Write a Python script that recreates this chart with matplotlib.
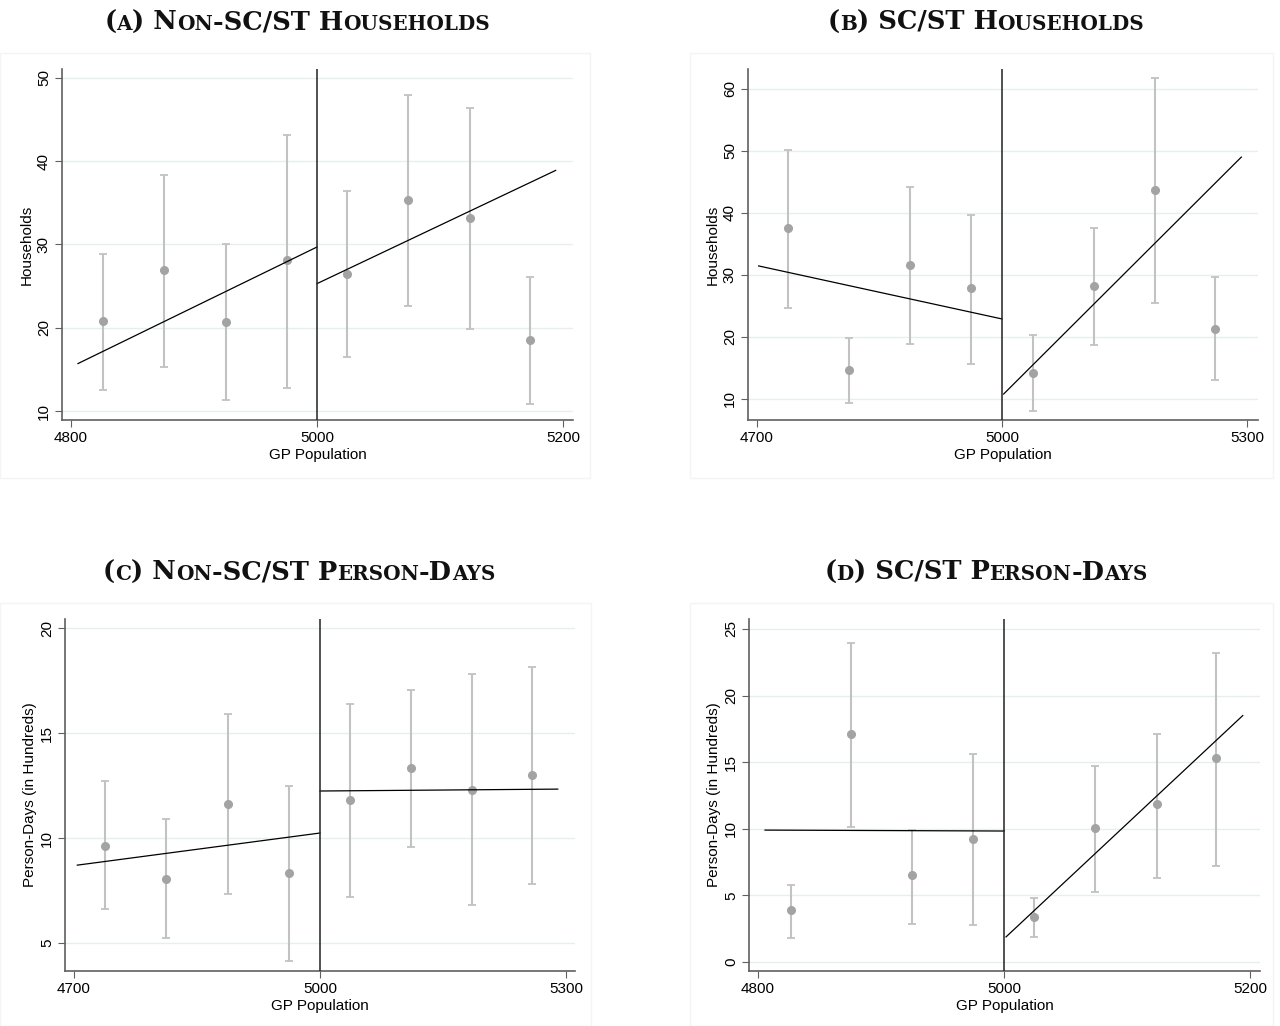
import numpy as np
import matplotlib as mpl
mpl.use('Agg')
import matplotlib.pyplot as plt
import matplotlib.transforms as mtransforms
from matplotlib.patches import Rectangle

W, H = 1280, 1026

# ---- data ----
# (a) Non-SC/ST households
a_x = [4826, 4876, 4926, 4976, 5024, 5074, 5124, 5173]
a_mean = [20.8, 26.9, 20.7, 28.1, 26.5, 35.3, 33.2, 18.5]
a_lo = [12.5, 15.3, 11.3, 12.8, 16.5, 22.6, 19.9, 10.9]
a_hi = [28.8, 38.4, 30.0, 43.2, 36.4, 48.0, 46.4, 26.1]
a_fit_left = ([4805.7, 5000], [15.7, 29.7])
a_fit_right = ([5000, 5194], [25.3, 38.9])

# (b) SC/ST households
b_x = [4738, 4812.5, 4887.5, 4962.5, 5037.5, 5112.5, 5187, 5261]
b_mean = [37.6, 14.7, 31.6, 27.9, 14.2, 28.2, 43.7, 21.3]
b_lo = [24.7, 9.4, 18.9, 15.7, 8.0, 18.7, 25.5, 13.0]
b_hi = [50.2, 19.8, 44.1, 39.6, 20.3, 37.6, 61.7, 29.6]
b_fit_left = ([4702, 5000], [31.45, 22.9])
b_fit_right = ([5002, 5293], [10.8, 49.0])

# (c) Non-SC/ST person-days
c_x = [4738, 4812, 4888, 4962, 5037, 5111, 5185, 5258]
c_mean = [9.62, 8.05, 11.6, 8.33, 11.8, 13.33, 12.3, 13.0]
c_lo = [6.62, 5.24, 7.33, 4.14, 7.19, 9.57, 6.8, 7.8]
c_hi = [12.71, 10.9, 15.9, 12.48, 16.4, 17.05, 17.8, 18.15]
c_fit_left = ([4704, 5000], [8.71, 10.24])
c_fit_right = ([5000, 5290], [12.24, 12.33])

# (d) SC/ST person-days
d_x = [4827, 4876, 4925, 4975, 5024, 5074, 5124, 5172]
d_mean = [3.9, 17.1, 6.5, 9.2, 3.4, 10.05, 11.85, 15.3]
d_lo = [1.8, 10.1, 2.85, 2.8, 1.9, 5.26, 6.3, 7.2]
d_hi = [5.78, 23.95, 9.9, 15.6, 4.8, 14.7, 17.1, 23.2]
d_fit_left = ([4805.7, 5000], [9.9, 9.83])
d_fit_right = ([5001.6, 5194], [1.88, 18.5])

panels = [
    dict(title='(a) Non-SC/ST Households', ylabel='Households',
         x=a_x, m=a_mean, lo=a_lo, hi=a_hi, fl=a_fit_left, fr=a_fit_right,
         xticks=[4800, 5000, 5200], yticks=[10, 20, 30, 40, 50],
         xlim=(4792.7, 5208.1), ylim=(8.92, 51.08),
         box=(62, 69, 573, 420), frame=(0, 53, 590, 478), ttl=(297, 30)),
    dict(title='(b) SC/ST Households', ylabel='Households',
         x=b_x, m=b_mean, lo=b_lo, hi=b_hi, fl=b_fit_left, fr=b_fit_right,
         xticks=[4700, 5000, 5300], yticks=[10, 20, 30, 40, 50, 60],
         xlim=(4689, 5313.4), ylim=(6.61, 63.2),
         box=(748, 69, 1258, 420), frame=(690, 53, 1273, 478), ttl=(986, 30)),
    dict(title='(c) Non-SC/ST Person-Days', ylabel='Person-Days (in Hundreds)',
         x=c_x, m=c_mean, lo=c_lo, hi=c_hi, fl=c_fit_left, fr=c_fit_right,
         xticks=[4700, 5000, 5300], yticks=[5, 10, 15, 20],
         xlim=(4689, 5311), ylim=(3.67, 20.43),
         box=(65, 619, 575, 971), frame=(0, 603, 591, 1026), ttl=(299, 580)),
    dict(title='(d) SC/ST Person-Days', ylabel='Person-Days (in Hundreds)',
         x=d_x, m=d_mean, lo=d_lo, hi=d_hi, fl=d_fit_left, fr=d_fit_right,
         xticks=[4800, 5000, 5200], yticks=[0, 5, 10, 15, 20, 25],
         xlim=(4792.7, 5208), ylim=(-0.68, 25.75),
         box=(749, 619, 1260, 971), frame=(690, 603, 1273, 1026), ttl=(986, 580)),
]

plt.rcParams['font.family'] = 'Liberation Sans'

fig = plt.figure(figsize=(W / 100., H / 100.), dpi=100)
renderer = fig.canvas.get_renderer()
ident = mtransforms.IdentityTransform()


def smallcaps_title(s, cx, base_y, size=18.5, ratio=0.78):
    # split into runs of big / small-cap letters
    runs = []
    for ch in s:
        small = ch.islower()
        c = ch.upper()
        if runs and runs[-1][1] == small:
            runs[-1][0] += c
        else:
            runs.append([c, small])
    texts = []
    total = 0.
    for txt, small in runs:
        t = fig.text(0, 0, txt, transform=ident, family='DejaVu Serif',
                     weight='bold', size=size * ratio if small else size,
                     va='baseline', ha='left', color='#111111')
        w = t.get_window_extent(renderer).width
        texts.append((t, w))
        total += w
    x = cx - total / 2.
    y = H - base_y
    for t, w in texts:
        t.set_position((x, y))
        x += w


for p in panels:
    fx0, fy0, fx1, fy1 = p['frame']
    fig.patches.append(Rectangle((fx0 / W, 1 - fy1 / H), (fx1 - fx0) / W, (fy1 - fy0) / H,
                                 transform=fig.transFigure, fill=False,
                                 edgecolor='#f4f4f4', lw=1.0))

    x0, y0, x1, y1 = p['box']
    ax = fig.add_axes([x0 / W, 1 - y1 / H, (x1 - x0) / W, (y1 - y0) / H])
    ax.set_xlim(*p['xlim'])
    ax.set_ylim(*p['ylim'])
    for sp in ['top', 'right']:
        ax.spines[sp].set_visible(False)
    for sp in ['left', 'bottom']:
        ax.spines[sp].set_color('#606060')
        ax.spines[sp].set_linewidth(1.2)

    ax.set_xticks(p['xticks'])
    ax.set_yticks(p['yticks'])
    ax.tick_params(direction='out', length=5, width=0.8, color='#606060',
                   labelsize=11, pad=3)
    for lab in ax.get_yticklabels():
        lab.set_rotation(90)
        lab.set_va('center')
    ax.yaxis.grid(True, color='#e6eeef', lw=1.0)
    ax.set_axisbelow(True)

    x = np.array(p['x'])
    m = np.array(p['m'])
    yerr = [m - np.array(p['lo']), np.array(p['hi']) - m]
    ax.errorbar(x, m, yerr=yerr, fmt='none', ecolor='#c2c2c2', elinewidth=1.5,
                capsize=3, capthick=1.3, zorder=2)
    ax.plot(x, m, 'o', color='#a3a3a3', markersize=5.5, zorder=3)

    ax.plot(p['fl'][0], p['fl'][1], color='black', lw=0.9, zorder=4)
    ax.plot(p['fr'][0], p['fr'][1], color='black', lw=0.9, zorder=4)
    ax.axvline(5000, color='#222222', lw=1.1, zorder=4)

    ax.set_xlabel('GP Population', fontsize=11, labelpad=2)
    ax.set_ylabel(p['ylabel'], fontsize=11, labelpad=2)

    smallcaps_title(p['title'], p['ttl'][0], p['ttl'][1])

fig.savefig('out.png', dpi=100)
